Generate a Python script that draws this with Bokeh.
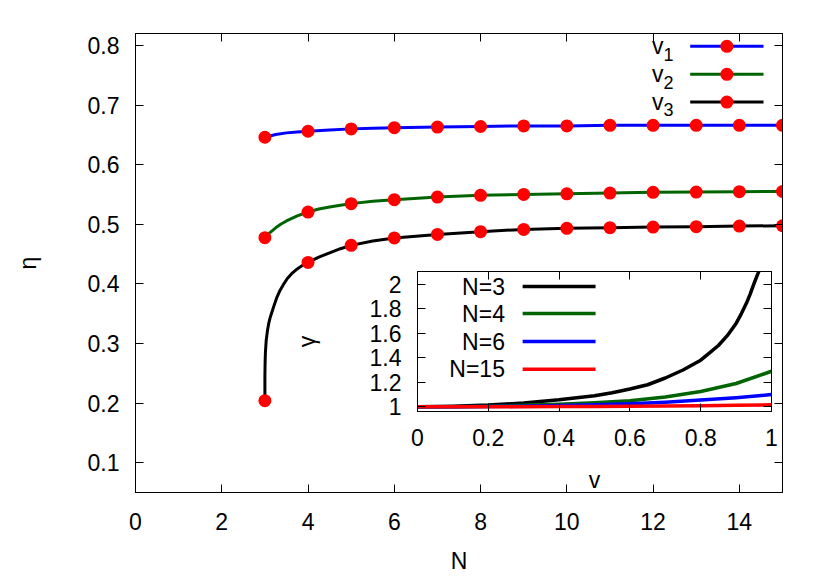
from bokeh.plotting import figure
from bokeh.models import Range1d, LinearAxis, FixedTicker
from bokeh.layouts import column
from bokeh.embed import file_html
from bokeh.resources import INLINE
from bokeh.core.properties import value

FONT = "Liberation Sans"
FS = "23px"

# ---------------- main panel data ----------------
N_points = [3, 4, 5, 6, 7, 8, 9, 10, 11, 12, 13, 14, 15]
v1_points = [0.646, 0.656, 0.660, 0.662, 0.663, 0.664, 0.665, 0.665, 0.666, 0.666, 0.666, 0.666, 0.666]
v2_points = [0.4775, 0.5205, 0.5346, 0.5413, 0.5456, 0.5485, 0.550, 0.551, 0.5523, 0.5535, 0.554, 0.5547, 0.555]
v3_points = [0.204, 0.436, 0.4646, 0.477, 0.483, 0.4876, 0.4914, 0.4931, 0.4943, 0.4953, 0.496, 0.497, 0.4975]

v1_curve_N = [3, 3.25, 3.5, 3.75, 4, 4.5, 5, 5.5, 6, 7, 8, 9, 10, 11, 12, 13, 14, 15]
v1_curve = [0.646, 0.6505, 0.6533, 0.6548, 0.656, 0.6583, 0.660, 0.6612, 0.662, 0.663, 0.664, 0.665, 0.665,
            0.666, 0.666, 0.666, 0.666, 0.666]
v2_curve_N = [3, 3.125, 3.25, 3.375, 3.5, 3.75, 4, 4.25, 4.5, 4.75, 5, 5.5, 6, 7, 8, 9, 10, 11, 12, 13, 14, 15]
v2_curve = [0.4775, 0.4865, 0.494, 0.5003, 0.5055, 0.514, 0.5205, 0.5255, 0.529, 0.532, 0.5346, 0.5385, 0.5413,
            0.5456, 0.5485, 0.550, 0.551, 0.5523, 0.5535, 0.554, 0.5547, 0.555]
v3_curve_N = [3.0, 3.0, 3.005, 3.012, 3.03, 3.06, 3.09, 3.12, 3.16, 3.2, 3.27, 3.35, 3.43, 3.52, 3.62, 3.75,
              3.87, 4, 4.25, 4.5, 4.75, 5, 5.5, 6, 7, 8, 9, 10, 11, 12, 13, 14, 15]
v3_curve = [0.204, 0.245, 0.268, 0.285, 0.305, 0.322, 0.334, 0.343, 0.352, 0.361, 0.376, 0.389, 0.399, 0.409,
            0.417, 0.425, 0.431, 0.436, 0.445, 0.452, 0.459, 0.4646, 0.472, 0.477, 0.483, 0.4876, 0.4914,
            0.4931, 0.4943, 0.4953, 0.496, 0.497, 0.4975]

main_x_ticks = [0, 2, 4, 6, 8, 10, 12, 14]
main_y_ticks = [0.1, 0.2, 0.3, 0.4, 0.5, 0.6, 0.7, 0.8]
main_y_labels = ["0.1", "0.2", "0.3", "0.4", "0.5", "0.6", "0.7", "0.8"]
main_names = ["v", "v", "v"]
main_subs = ["1", "2", "3"]
main_colors = ["#0000ff", "#006400", "#000000"]

# ---------------- inset data ----------------
v3_grid = [0, 0.1, 0.2, 0.3, 0.4, 0.5, 0.55, 0.6, 0.65, 0.7, 0.75, 0.8, 0.825, 0.85, 0.875, 0.9, 0.915,
           0.93, 0.94, 0.95, 0.958, 0.965, 0.97]
gamma_N3 = [1.0, 1.004, 1.014, 1.032, 1.057, 1.09, 1.115, 1.145, 1.18, 1.235, 1.30, 1.38, 1.44, 1.50, 1.58,
            1.68, 1.76, 1.85, 1.92, 2.0, 2.06, 2.11, 2.17]
v_grid = [0, 0.1, 0.2, 0.3, 0.4, 0.5, 0.6, 0.7, 0.8, 0.9, 1.0]
gamma_N4 = [1.0, 1.001, 1.005, 1.012, 1.022, 1.034, 1.05, 1.08, 1.125, 1.19, 1.29]
gamma_N6 = [1.0, 1.0, 1.002, 1.005, 1.01, 1.016, 1.025, 1.037, 1.055, 1.075, 1.10]
gamma_N15 = [1.0, 1.0, 1.0, 1.001, 1.002, 1.003, 1.005, 1.007, 1.009, 1.012, 1.016]
inset_names = ["N=3", "N=4", "N=6", "N=15"]
inset_colors = ["#000000", "#006400", "#0000ff", "#ff0000"]
inset_x_ticks = [0, 0.2, 0.4, 0.6, 0.8, 1.0]
inset_x_labels = ["0", "0.2", "0.4", "0.6", "0.8", "1"]
inset_y_ticks = [1.0, 1.2, 1.4, 1.6, 1.8, 2.0]
inset_y_labels = ["1", "1.2", "1.4", "1.6", "1.8", "2"]


def style_axis(ax, ticks, labels=None, show=True, fs=FS, standoff=16):
    ax.ticker = FixedTicker(ticks=ticks)
    ax.major_tick_in = 8
    ax.major_tick_out = 0
    ax.minor_tick_line_color = None
    ax.axis_line_color = "black"
    ax.major_tick_line_color = "black"
    ax.axis_line_width = 1
    ax.major_tick_line_width = 1
    if labels is not None:
        ax.major_label_overrides = {t: l for t, l in zip(ticks, labels)}
    if show:
        ax.major_label_text_font = FONT
        ax.major_label_text_font_size = fs
        ax.major_label_text_color = "black"
        ax.major_label_standoff = standoff
        ax.axis_label_text_font = FONT
        ax.axis_label_text_font_size = fs
        ax.axis_label_text_font_style = "normal"
        ax.axis_label_text_color = "black"
    else:
        # mirrored tick marks only, no labels drawn
        ax.major_label_overrides = {t: "" for t in ticks}
        ax.major_label_text_color = None
        ax.major_label_text_font_size = "1px"
        ax.major_label_standoff = 0


# ---------------- main figure ----------------
MAIN_LEFT = 180   # left border of the main canvas
SHIFT = MAIN_LEFT - 135   # the whole layout is shifted left so that the frame starts at x=135
p = figure(frame_width=647, frame_height=459, x_range=Range1d(0, 15), y_range=Range1d(0.05, 0.82),
           output_backend="svg", toolbar_location=None,
           min_border_left=MAIN_LEFT, min_border_right=48, min_border_top=33, min_border_bottom=89,
           x_axis_label="N", y_axis_label="η")
p.grid.visible = False
p.outline_line_color = "black"
p.outline_line_width = 1
p.background_fill_color = "white"
p.border_fill_color = "white"

style_axis(p.xaxis[0], main_x_ticks, standoff=20)
style_axis(p.yaxis[0], main_y_ticks, main_y_labels, standoff=16)
p.xaxis[0].axis_label_standoff = 15
p.yaxis[0].axis_label_standoff = 44

top_ax = LinearAxis()
style_axis(top_ax, main_x_ticks, show=False)
p.add_layout(top_ax, "above")
right_ax = LinearAxis()
style_axis(right_ax, main_y_ticks, show=False)
p.add_layout(right_ax, "right")

for xs, ys, c in [(v1_curve_N, v1_curve, main_colors[0]),
                  (v2_curve_N, v2_curve, main_colors[1]),
                  (v3_curve_N, v3_curve, main_colors[2])]:
    p.line(xs, ys, line_color=c, line_width=3, line_join="round", line_cap="round")
for ys in [v1_points, v2_points, v3_points]:
    p.scatter(N_points, ys, size=13, fill_color="#ff0000", line_color="#ff0000", line_width=0)

# key (gnuplot style: text left, sample right)
key_rows = [0.7985, 0.7515, 0.705]
key_text_x = 12.24
key_line_x0, key_line_x1, key_marker_x = 12.86, 14.56, 13.71
p.text(x=[key_text_x] * 3, y=key_rows, text=main_names, text_align="right", text_baseline="middle",
       text_font=value(FONT), text_font_size=FS, text_color="black")
p.text(x=[key_text_x] * 3, y=[r - 0.013 for r in key_rows], text=main_subs, text_align="left",
       text_baseline="middle", text_font=value(FONT), text_font_size="18px", text_color="black")
p.segment(x0=[key_line_x0] * 3, x1=[key_line_x1] * 3, y0=key_rows, y1=key_rows,
          line_color=main_colors, line_width=3)
p.scatter([key_marker_x] * 3, key_rows, size=13, fill_color="#ff0000", line_color="#ff0000", line_width=0)

# ---------------- inset figure ----------------
INSET_LEFT = 180
INSET_TOP = 30
q = figure(frame_width=354, frame_height=140, x_range=Range1d(0, 1), y_range=Range1d(0.962, 2.103),
           output_backend="svg", toolbar_location=None,
           min_border_left=INSET_LEFT, min_border_right=12, min_border_top=INSET_TOP, min_border_bottom=85,
           x_axis_label="v", y_axis_label="γ")
q.grid.visible = False
q.outline_line_color = "black"
q.background_fill_alpha = 0
q.border_fill_alpha = 0
style_axis(q.xaxis[0], inset_x_ticks, inset_x_labels, standoff=17)
style_axis(q.yaxis[0], inset_y_ticks, inset_y_labels, standoff=16)
q.xaxis[0].axis_label_standoff = 18
q.yaxis[0].axis_label_standoff = 47
qt = LinearAxis()
style_axis(qt, inset_x_ticks, show=False)
q.add_layout(qt, "above")
qr = LinearAxis()
style_axis(qr, inset_y_ticks, show=False)
q.add_layout(qr, "right")

q.line(v3_grid, gamma_N3, line_color=inset_colors[0], line_width=3.5, line_join="round")
q.line(v_grid, gamma_N4, line_color=inset_colors[1], line_width=3.5, line_join="round")
q.line(v_grid, gamma_N6, line_color=inset_colors[2], line_width=3.5, line_join="round")
q.line(v_grid, gamma_N15, line_color=inset_colors[3], line_width=3.5, line_join="round")

ikey_rows = [1.98, 1.76, 1.532, 1.307]
ikey_text_x = 0.247
ikey_x0, ikey_x1 = 0.297, 0.503
q.text(x=[ikey_text_x] * 4, y=ikey_rows, text=inset_names, text_align="right", text_baseline="middle",
       text_font=value(FONT), text_font_size=FS, text_color="black")
q.segment(x0=[ikey_x0] * 4, x1=[ikey_x1] * 4, y0=ikey_rows, y1=ikey_rows,
          line_color=inset_colors, line_width=3.5)

# place the inset over the main panel: its frame starts at (417, 271) on the page
q.margin = (271 - INSET_TOP - 581, 0, 0, 417 - INSET_LEFT + SHIFT)

layout = column(p, q)
layout.margin = (0, 0, 0, -SHIFT)
open("out.html", "w").write(file_html(layout, INLINE))
